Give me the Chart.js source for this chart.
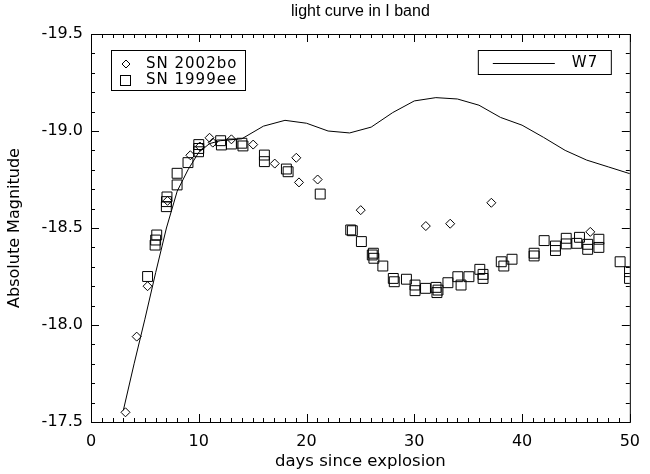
<!DOCTYPE html>
<html>
<head>
<meta charset="utf-8">
<script src="https://cdn.jsdelivr.net/npm/chart.js@4"></script>
<style>
  body { margin: 0; background: #fff; }
  #wrap { width: 650px; height: 474px; position: relative; }
</style>
</head>
<body>
<div id="wrap"><canvas id="chart"></canvas></div>
<script>
// W7 model light curve
const w7Days = [3, 4, 5, 6, 7, 8, 9, 10, 11, 12, 14, 16, 18, 20, 22, 24, 26, 28, 30, 32, 34, 36, 38, 40, 42, 44, 46, 48, 50];
const w7Mag = [-17.56, -17.80, -18.03, -18.27, -18.50, -18.69, -18.80, -18.89, -18.935, -18.95, -18.96, -19.025, -19.055,
  -19.04, -19.0, -18.99, -19.02, -19.095, -19.155, -19.172, -19.165, -19.133, -19.07, -19.03, -18.967, -18.90, -18.85, -18.815, -18.78];

// SN 2002bo (diamonds)
const bo02Days = [3.2, 4.24, 5.25, 7.1, 9.22, 10.1, 11.0, 11.3, 13.03, 15.05, 17.05, 19.05, 19.3, 21.03, 25.03, 31.07, 33.33, 37.15, 46.33];
const bo02Mag = [-17.55, -17.94, -18.20, -18.64, -18.875, -18.92, -18.965, -18.94, -18.957, -18.93, -18.832, -18.862, -18.735,
  -18.75, -18.592, -18.51, -18.522, -18.63, -18.48];

// SN 1999ee (squares)
const ee99Days = [5.25, 5.95, 6.0, 6.1, 6.99, 7.0, 7.05, 7.99, 7.99, 9.0, 9.98, 10.0, 10.0, 12.03, 12.1, 13.03, 14.0, 14.1,
  16.09, 16.09, 18.13, 18.29, 21.27, 24.1, 24.25, 25.09, 26.1, 26.25, 26.2, 27.08, 28.05, 28.14, 29.27, 30.07, 30.07, 31.04,
  32.02, 32.1, 32.2, 33.12, 34.04, 34.34, 35.07, 36.08, 36.38, 36.38, 38.07, 38.31, 39.07, 41.12, 41.12, 42.05, 43.1, 43.1,
  44.1, 44.1, 45.08, 45.33, 46.09, 46.09, 47.13, 47.13, 49.1, 49.97, 49.97];
const ee99Mag = [-18.25, -18.412, -18.438, -18.464, -18.61, -18.636, -18.66, -18.722, -18.782, -18.837, -18.893, -18.91, -18.93,
  -18.95, -18.928, -18.933, -18.937, -18.923, -18.876, -18.842, -18.804, -18.79, -18.675, -18.49, -18.486, -18.43, -18.361,
  -18.344, -18.37, -18.304, -18.24, -18.223, -18.236, -18.206, -18.177, -18.189, -18.194, -18.167, -18.18, -18.218, -18.249,
  -18.206, -18.249, -18.287, -18.261, -18.24, -18.326, -18.304, -18.339, -18.37, -18.356, -18.435, -18.407, -18.384, -18.447,
  -18.418, -18.421, -18.452, -18.416, -18.39, -18.442, -18.4, -18.326, -18.275, -18.24];

const chartTitle = "light curve in I band";

const toPoints = (xs, ys) => xs.map((x, i) => ({ x: x, y: ys[i] }));

const FONT = "'DejaVu Sans', sans-serif";

// IDL-style frame: box with inward major/minor ticks on all four sides, title over the plot box
const framePlugin = {
  id: "frame",
  afterDraw(chart) {
    const ctx = chart.ctx;
    const a = chart.chartArea;
    const xs = chart.scales.x, ys = chart.scales.y;
    ctx.save();
    ctx.strokeStyle = "#000";
    ctx.lineWidth = 1;
    ctx.strokeRect(a.left + 0.5, a.top + 0.5, a.right - a.left, a.bottom - a.top);
    ctx.beginPath();
    for (let d = 0; d <= 50; d++) {
      const px = Math.round(xs.getPixelForValue(d)) + 0.5;
      const len = d % 10 === 0 ? 8 : 4;
      ctx.moveTo(px, a.bottom); ctx.lineTo(px, a.bottom - len);
      ctx.moveTo(px, a.top); ctx.lineTo(px, a.top + len);
    }
    for (let k = 0; k <= 20; k++) {
      const py = Math.round(ys.getPixelForValue(-19.5 + k * 0.1)) + 0.5;
      const len = k % 5 === 0 ? 8 : 4;
      ctx.moveTo(a.left, py); ctx.lineTo(a.left + len, py);
      ctx.moveTo(a.right, py); ctx.lineTo(a.right - len, py);
    }
    ctx.stroke();

    ctx.fillStyle = "#000";
    ctx.font = "16px 'Liberation Sans', sans-serif";
    ctx.textAlign = "center";
    ctx.textBaseline = "middle";
    ctx.fillText(chartTitle, (a.left + a.right) / 2, 12);
    ctx.restore();
  }
};

// two boxed legends, as in the original plot
const legendPlugin = {
  id: "boxLegend",
  afterDraw(chart) {
    const ctx = chart.ctx;
    const a = chart.chartArea;
    const ds = chart.data.datasets;
    ctx.save();
    ctx.strokeStyle = "#000";
    ctx.fillStyle = "#000";
    ctx.lineWidth = 1;
    ctx.font = "15px " + FONT;
    ctx.textBaseline = "middle";
    ctx.letterSpacing = "1px";

    // left box
    const lx = a.left + 20, ly = a.top + 16;
    ctx.strokeRect(lx + 0.5, ly + 0.5, 134, 40);
    ctx.beginPath();
    const dx = lx + 15, dy = ly + 14;
    ctx.moveTo(dx, dy - 4); ctx.lineTo(dx + 4, dy); ctx.lineTo(dx, dy + 4); ctx.lineTo(dx - 4, dy); ctx.closePath();
    ctx.stroke();
    ctx.strokeRect(lx + 9.5, ly + 25.5, 10, 10);
    ctx.fillText(ds[1].label, lx + 35, ly + 14);
    ctx.fillText(ds[2].label, lx + 35, ly + 30);

    // right box
    const rx = a.right - 152, ry = a.top + 16;
    ctx.strokeRect(rx + 0.5, ry + 0.5, 133, 24);
    ctx.beginPath();
    ctx.moveTo(rx + 15, ry + 13.5); ctx.lineTo(rx + 77, ry + 13.5);
    ctx.stroke();
    ctx.fillText(ds[0].label, rx + 94, ry + 13);
    ctx.restore();
  }
};

const ctx = document.getElementById("chart").getContext("2d");

const myChart = new Chart(ctx, {
  type: "scatter",
  data: {
    datasets: [
      {
        label: "W7",
        type: "line",
        data: toPoints(w7Days, w7Mag),
        borderColor: "#000",
        borderWidth: 1,
        pointRadius: 0,
        tension: 0,
        fill: false,
      },
      {
        label: "SN 2002bo",
        data: toPoints(bo02Days, bo02Mag),
        pointStyle: "rectRot",
        pointRadius: 4.5,
        borderColor: "#000",
        borderWidth: 1,
        backgroundColor: "rgba(0,0,0,0)",
      },
      {
        label: "SN 1999ee",
        data: toPoints(ee99Days, ee99Mag),
        pointStyle: "rect",
        pointRadius: 7,
        borderColor: "#000",
        borderWidth: 1,
        backgroundColor: "rgba(0,0,0,0)",
      }
    ],
  },
  options: {
    responsive: true,
    maintainAspectRatio: false,
    animation: false,
    devicePixelRatio: 1,
    layout: { padding: { top: 34, right: 13, left: 0, bottom: 0 } },
    scales: {
      x: {
        type: "linear",
        min: 0,
        max: 50,
        afterFit: (scale) => { scale.height = 52; },
        grid: { display: false, drawTicks: false },
        border: { display: false },
        ticks: {
          stepSize: 10,
          padding: 10,
          color: "#000",
          font: { family: FONT, size: 16 },
          maxRotation: 0,
        },
        title: {
          display: true,
          text: "days since explosion",
          color: "#000",
          font: { family: FONT, size: 16.5 },
          padding: { top: 0, bottom: 2 },
        }
      },
      y: {
        min: -19.5,
        max: -17.5,
        reverse: true,
        afterFit: (scale) => { scale.width = 91; },
        grid: { display: false, drawTicks: false },
        border: { display: false },
        ticks: {
          stepSize: 0.5,
          padding: 8,
          color: "#000",
          font: { family: FONT, size: 16 },
          callback: function (value) {
            return value.toFixed(1);
          }
        },
        title: {
          display: true,
          text: "Absolute Magnitude",
          color: "#000",
          font: { family: FONT, size: 16 },
          padding: { top: 5, bottom: 0 },
        }
      }
    },
    plugins: {
      legend: { display: false },
      tooltip: { enabled: false },
      title: { display: false }
    }
  },
  plugins: [framePlugin, legendPlugin]
});
</script>
</body>
</html>
